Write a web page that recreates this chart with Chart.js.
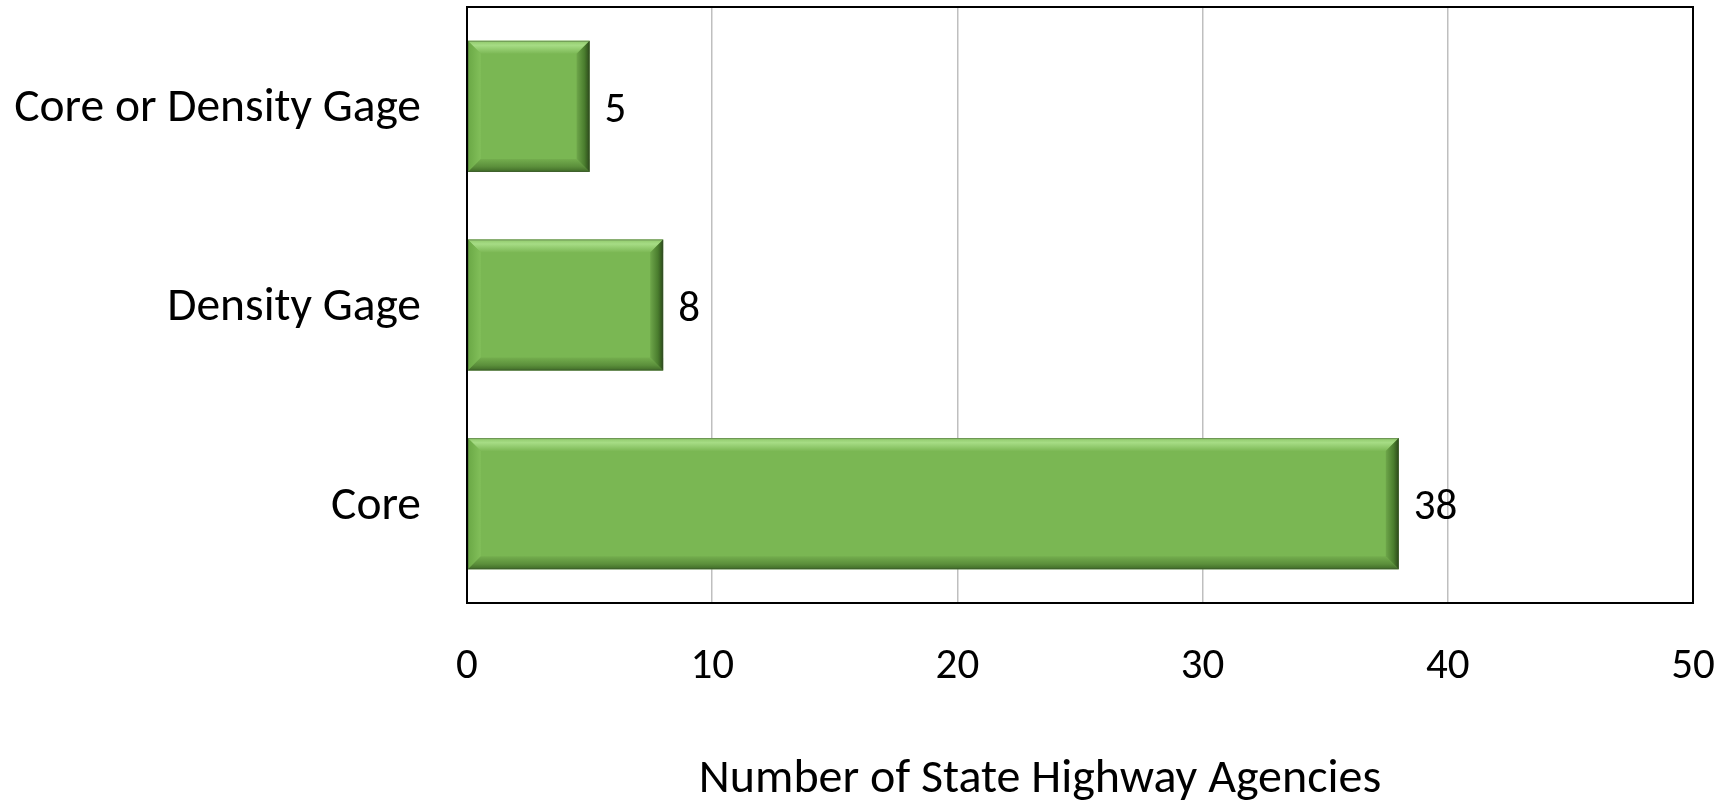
<!DOCTYPE html>
<html>
<head>
<meta charset="utf-8">
<script src="https://cdn.jsdelivr.net/npm/chart.js@4.4.1/dist/chart.umd.min.js"></script>
<style>
    html, body { margin: 0; padding: 0; background: #ffffff; }
    #wrap { width: 1732px; height: 803px; }
</style>
</head>
<body>
<div id="wrap"><canvas id="gageChart" width="1732" height="803"></canvas></div>
<script>
// Data
const categories = ['Core or Density Gage', 'Density Gage', 'Core'];
const agencyCounts = [5, 8, 38];
const xTicks = [0, 10, 20, 30, 40, 50];
const axisTitle = 'Number of State Highway Agencies';

const FONT = 'Carlito, Calibri, Lato, sans-serif';

// bevelled look of the bars (Excel style)
const bevelPlugin = {
    id: 'bevel',
    afterDatasetsDraw(chart) {
        const ctx = chart.ctx;
        const b = 13;
        chart.getDatasetMeta(0).data.forEach(bar => {
            const L = Math.min(bar.base, bar.x), R = Math.max(bar.base, bar.x);
            const T = bar.y - bar.height / 2, B = bar.y + bar.height / 2;
            ctx.save();
            // top
            let g = ctx.createLinearGradient(0, T, 0, T + b);
            g.addColorStop(0, '#8fc86a');
            g.addColorStop(0.35, '#a6dc85');
            g.addColorStop(1, '#7cb855');
            ctx.fillStyle = g;
            ctx.beginPath();
            ctx.moveTo(L, T); ctx.lineTo(R, T); ctx.lineTo(R - b, T + b); ctx.lineTo(L + b, T + b);
            ctx.closePath(); ctx.fill();
            // left
            g = ctx.createLinearGradient(L, 0, L + b, 0);
            g.addColorStop(0, '#6aa845');
            g.addColorStop(1, '#82bf5a');
            ctx.fillStyle = g;
            ctx.beginPath();
            ctx.moveTo(L, T); ctx.lineTo(L + b, T + b); ctx.lineTo(L + b, B - b); ctx.lineTo(L, B);
            ctx.closePath(); ctx.fill();
            // bottom
            g = ctx.createLinearGradient(0, B - b, 0, B);
            g.addColorStop(0, '#74ae4e');
            g.addColorStop(0.6, '#5b8f3b');
            g.addColorStop(1, '#3f6a27');
            ctx.fillStyle = g;
            ctx.beginPath();
            ctx.moveTo(L, B); ctx.lineTo(L + b, B - b); ctx.lineTo(R - b, B - b); ctx.lineTo(R, B);
            ctx.closePath(); ctx.fill();
            // right
            g = ctx.createLinearGradient(R - b, 0, R, 0);
            g.addColorStop(0, '#6ea64a');
            g.addColorStop(0.6, '#4a7d2e');
            g.addColorStop(1, '#2c4a1a');
            ctx.fillStyle = g;
            ctx.beginPath();
            ctx.moveTo(R, T); ctx.lineTo(R, B); ctx.lineTo(R - b, B - b); ctx.lineTo(R - b, T + b);
            ctx.closePath(); ctx.fill();
            // outline
            ctx.strokeStyle = 'rgba(60,80,50,0.45)';
            ctx.lineWidth = 1;
            ctx.strokeRect(L + 0.5, T + 0.5, R - L - 1, B - T - 1);
            ctx.restore();
        });
    }
};

// value labels, plot frame and axis title
const labelPlugin = {
    id: 'labels',
    afterDraw(chart) {
        const ctx = chart.ctx;
        const area = chart.chartArea;
        ctx.save();
        ctx.strokeStyle = '#000000';
        ctx.lineWidth = 2;
        ctx.strokeRect(area.left, area.top, area.right - area.left, area.bottom - area.top);

        ctx.fillStyle = '#000000';
        ctx.font = '43px ' + FONT;
        ctx.textAlign = 'left';
        ctx.textBaseline = 'middle';
        chart.getDatasetMeta(0).data.forEach((bar, i) => {
            ctx.fillText(String(agencyCounts[i]), bar.x + 15, bar.y + 5);
        });

        ctx.font = '48px ' + FONT;
        ctx.textAlign = 'center';
        ctx.fillText(axisTitle, 1040, 780);
        ctx.restore();
    }
};

const ctx1 = document.getElementById('gageChart').getContext('2d');
const gageChart = new Chart(ctx1, {
    type: 'bar',
    data: {
        labels: categories,
        datasets: [{
            label: 'Agencies',
            data: agencyCounts,
            backgroundColor: '#7ab753',
            borderWidth: 0,
            barPercentage: 0.66,
            categoryPercentage: 1
        }]
    },
    options: {
        indexAxis: 'y',
        responsive: false,
        animation: false,
        layout: { padding: { top: 7, right: 39, bottom: 0, left: 0 } },
        plugins: {
            legend: { display: false },
            tooltip: { enabled: false }
        },
        scales: {
            x: {
                min: xTicks[0],
                max: xTicks[xTicks.length - 1],
                afterBuildTicks: scale => { scale.ticks = xTicks.map(v => ({ value: v })); },
                afterFit: scale => { scale.height = 200; },
                grid: { color: '#bfbfbf', lineWidth: 1.5, drawTicks: true, tickLength: 38, tickColor: 'rgba(0,0,0,0)' },
                border: { display: false },
                ticks: {
                    color: '#000000',
                    padding: 0,
                    font: { family: FONT, size: 43 },
                    maxRotation: 0
                }
            },
            y: {
                afterFit: scale => { scale.width = 467; },
                grid: { display: true, drawOnChartArea: false, drawTicks: true, tickLength: 46, tickColor: 'rgba(0,0,0,0)' },
                border: { display: false },
                ticks: {
                    color: '#000000',
                    padding: 0,
                    labelOffset: 3,
                    font: { family: FONT, size: 47.5, lineHeight: 0.25 }
                }
            }
        }
    },
    plugins: [bevelPlugin, labelPlugin]
});
</script>
</body>
</html>
